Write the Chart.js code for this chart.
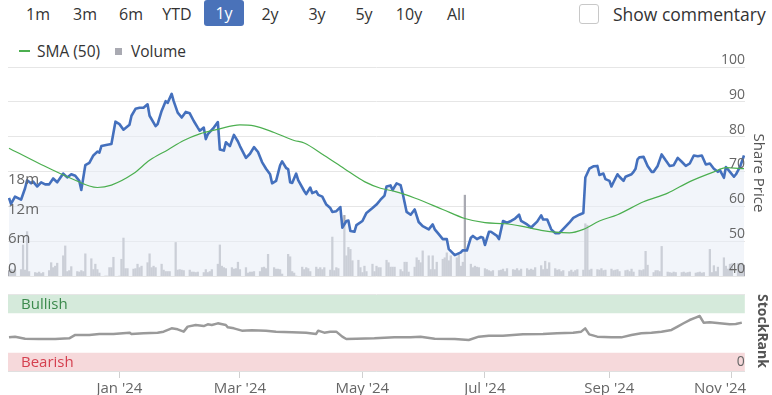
<!DOCTYPE html>
<html>
<head>
<meta charset="utf-8">
<script src="https://cdn.jsdelivr.net/npm/chart.js@4.4.1/dist/chart.umd.min.js"></script>
<style>
  body { margin: 0; width: 772px; height: 395px; background: #fff; font-family: 'Open Sans', sans-serif; position: relative; overflow: hidden; }
  .btn { position: absolute; top: 1px; height: 26px; line-height: 26px; font-size: 16px; color: #333; transform: translateX(-50%); }
  .btn.on { top: 0; background: #4a72b9; color: #fff; width: 40px; text-align: center; border-radius: 3px; }
  .check { position: absolute; left: 579px; top: 4px; width: 18px; height: 18px; border: 1px solid #c8c8c8; border-radius: 3px; }
  .comment { position: absolute; left: 613px; top: 0; line-height: 28px; font-size: 17.5px; color: #333; }
  .legend { position: absolute; top: 41px; line-height: 20px; font-size: 15.5px; color: #333; }
  .axis-title { position: absolute; font-size: 15px; color: #555; white-space: nowrap; transform: translate(-50%, -50%) rotate(90deg); }
  canvas { position: absolute; left: 0; }
</style>
</head>
<body>
<div class="btn" style="left:38px">1m</div>
<div class="btn" style="left:85px">3m</div>
<div class="btn" style="left:131px">6m</div>
<div class="btn" style="left:177px">YTD</div>
<div class="btn on" style="left:224px">1y</div>
<div class="btn" style="left:270px">2y</div>
<div class="btn" style="left:317px">3y</div>
<div class="btn" style="left:364px">5y</div>
<div class="btn" style="left:409px">10y</div>
<div class="btn" style="left:456px">All</div>
<div class="check"></div>
<div class="comment">Show commentary</div>

<div style="position:absolute;left:19px;top:50px;width:11px;height:2px;background:#4caf50"></div>
<div class="legend" style="left:37px">SMA (50)</div>
<div style="position:absolute;left:115px;top:48px;width:7px;height:7px;background:#a9aab2"></div>
<div class="legend" style="left:131px">Volume</div>

<canvas id="main" width="772" height="245" style="top:40px"></canvas>
<canvas id="rank" width="772" height="110" style="top:285px"></canvas>

<div class="axis-title" style="left:760px;top:173px">Share Price</div>
<div class="axis-title" style="left:763px;top:331px;font-weight:bold;font-size:14px">StockRank</div>

<script>
// x values are days counted from 1 Jan 2024 (negative = late 2023)
const xMin = -55.5;
const xMax = 311.5;

const tickDays = [0, 60, 121, 182, 244, 305];
const tickLabels = ["Jan '24", "Mar '24", "May '24", "Jul '24", "Sep '24", "Nov '24"];

const priceDays = [
  -55, -54, -52, -49, -47, -46, -44, -43, -41, -39,
  -37, -35, -33, -31, -28, -26, -24, -22, -20, -19,
  -17, -15, -13, -11, -10, -9, -6, -4, -2, 0,
  2, 5, 6, 8, 10, 12, 14, 15, 18, 19,
  21, 23, 24, 26, 27, 29, 31, 33, 35, 37,
  39, 40, 42, 43, 44, 47, 49, 50, 52, 53,
  55, 57, 59, 60, 63, 65, 67, 69, 71, 73,
  75, 76, 78, 80, 81, 83, 84, 85, 86, 88,
  89, 92, 93, 95, 96, 98, 99, 101, 103, 105,
  106, 108, 110, 111, 113, 114, 115, 117, 118, 121,
  123, 126, 128, 130, 132, 133, 135, 136, 138, 140,
  141, 143, 145, 147, 149, 151, 154, 156, 157, 159,
  161, 163, 164, 167, 170, 171, 173, 175, 176, 178,
  180, 181, 182, 184, 185, 188, 189, 191, 193, 195,
  197, 199, 200, 203, 205, 206, 208, 210, 211, 213,
  215, 217, 219, 222, 224, 226, 229, 231, 232, 234,
  236, 238, 239, 241, 242, 244, 245, 246, 248, 249,
  251, 252, 255, 256, 257, 258, 259, 261, 263, 265,
  266, 268, 270, 272, 274, 276, 278, 280, 282, 284,
  286, 288, 290, 292, 294, 296, 298, 299, 301, 302,
  304, 306, 307, 309, 311
];
const priceClose = [
  62.4, 60.7, 62.8, 61.9, 65.2, 67.5, 66.6, 67.1, 65.7, 66.9,
  66.3, 66.3, 68.0, 66.9, 69.4, 68.3, 69.2, 68.8, 67.3, 64.7,
  71.8, 72.5, 74.6, 75.7, 75.4, 77.3, 77.7, 77.9, 84.3, 83.6,
  82.0, 83.4, 86.0, 88.0, 88.3, 88.3, 89.3, 86.0, 83.0, 83.6,
  87.4, 90.2, 89.7, 92.3, 90.2, 86.9, 85.5, 87.1, 86.7, 84.5,
  82.6, 81.7, 82.6, 79.3, 80.7, 82.6, 84.2, 76.3, 76.0, 78.4,
  77.3, 80.5, 78.6, 77.3, 73.9, 75.1, 77.0, 75.6, 72.7, 70.8,
  69.2, 66.6, 67.3, 71.8, 72.9, 71.0, 70.7, 66.9, 66.7, 69.4,
  67.5, 64.4, 63.5, 65.4, 63.8, 64.3, 63.3, 62.8, 60.5, 59.5,
  58.4, 58.6, 59.8, 53.9, 55.8, 55.9, 52.9, 52.7, 54.6, 55.8,
  58.1, 59.5, 60.5, 61.9, 63.1, 65.7, 66.0, 64.7, 66.6, 66.1,
  63.8, 58.4, 57.6, 59.1, 55.5, 54.3, 53.4, 54.8, 53.4, 52.0,
  50.6, 50.6, 47.7, 46.0, 46.8, 47.4, 47.3, 51.0, 51.5, 50.6,
  51.2, 51.0, 48.9, 52.7, 52.7, 51.5, 50.6, 55.8, 55.3, 55.8,
  56.5, 57.6, 55.8, 54.8, 53.9, 54.5, 55.6, 57.4, 56.2, 56.2,
  53.4, 52.3, 52.3, 54.1, 55.3, 56.7, 57.6, 58.1, 68.3, 70.8,
  71.5, 71.6, 69.0, 69.4, 67.8, 67.3, 65.7, 66.9, 69.2, 68.5,
  67.3, 68.5, 69.2, 69.9, 70.8, 73.5, 74.1, 74.2, 71.6, 69.9,
  69.9, 71.6, 74.9, 73.2, 71.6, 71.8, 73.9, 72.8, 71.6, 72.3,
  74.6, 74.4, 74.6, 72.0, 72.3, 70.8, 69.9, 70.4, 68.2, 71.3,
  69.9, 68.5, 69.2, 71.3, 74.6
];

const smaDays = [
  -55, -40, -24, -11, -4, 7, 15, 24, 32, 40,
  49, 60, 67, 77, 87, 92, 102, 112, 122, 130,
  137, 147, 161, 172, 182, 192, 200, 210, 218, 224,
  231, 239, 248, 261, 273, 284, 296, 302, 311
];
const smaValues = [
  76.7, 72.3, 68.0, 65.4, 66.1, 69.4, 73.2, 76.2, 78.9, 80.8,
  82.1, 83.4, 83.1, 81.2, 78.9, 78.2, 74.6, 70.8, 67.1, 65.2,
  64.3, 62.4, 59.1, 56.5, 55.3, 55.0, 54.3, 53.1, 52.5, 52.4,
  53.4, 55.8, 57.6, 61.3, 63.8, 67.1, 69.9, 71.1, 70.8
];

// daily volume in millions, one row per week (Mon..Fri), first row starts Tue 7 Nov 2023
const volumeFirstDay = -55;
const volume = [
  1.1, 1.4, 1.2, 1.3,
  1.3, 6.3, 1.2, 9.0, 0.9,
  0.7, 0.6, 0.8, 0.5, 0.7,
  1.1, 2.7, 1.7, 2.0, 2.6,
  4.1, 6.1, 0.9, 1.1, 1.9,
  0.9, 0.8, 1.1, 0.9, 4.5,
  3.5, 1.3, 2.4, 1.3, 0.6,
  0, 0, 1.7, 1.7, 3.8,
  0, 3.4, 7.7, 1.5, 1.5,
  1.4, 1.5, 2.4, 1.7, 2.0,
  2.7, 4.5, 1.7, 2.0, 1.7,
  2.4, 1.2, 0.9, 0.9, 0.9,
  6.8, 1.2, 1.3, 1.2, 1.1,
  1.2, 0.8, 0.8, 0.7, 0.8,
  0.7, 1.3, 0.7, 0.9, 1.3,
  2.4, 6.3, 2.0, 1.7, 1.5,
  1.7, 1.4, 1.5, 2.8, 1.3,
  1.7, 0.6, 0.8, 0.8, 0.9,
  0.9, 1.7, 1.8, 1.5, 4.4,
  1.7, 1.4, 1.4, 1.3, 0.4,
  4.4, 3.9, 0.9, 0.6, 0,
  1.8, 1.3, 1.7, 1.5, 0.9,
  1.8, 1.4, 1.7, 1.3, 1.7,
  1.2, 7.9, 1.1, 1.7, 1.5,
  12.3, 4.1, 5.8, 5.4, 3.1,
  3.2, 1.7, 0.7, 2.0, 0.9,
  2.4, 0.9, 2.0, 1.7, 1.7,
  3.2, 2.7, 1.8, 1.8, 1.8,
  1.3, 0.9, 2.8, 2.8, 0.8,
  1.8, 3.7, 3.2, 2.7, 5.1,
  4.1, 1.3, 4.1, 1.3, 2.8,
  3.4, 3.7, 4.7, 3.1, 4.1,
  3.7, 4.4, 2.0, 2.8, 16.4,
  2.4, 1.7, 2.0, 1.8, 1.7,
  1.5, 1.3, 1.1, 0.9, 1.1,
  1.1, 1.2, 1.4, 0.9, 1.5,
  1.3, 1.2, 1.5, 1.1, 1.4,
  1.5, 1.2, 1.4, 1.2, 1.7,
  2.1, 1.3, 3.0, 1.4, 2.7,
  1.5, 1.2, 1.3, 0.9, 1.1,
  0.9, 1.2, 0.8, 1.1, 1.3,
  1.2, 10.6, 10.3, 1.2, 1.4,
  1.3, 1.2, 1.5, 1.1, 1.2,
  1.4, 1.1, 1.2, 1.3, 0.9,
  1.1, 1.2, 0.9, 1.4, 0.8,
  1.2, 1.1, 1.3, 5.0, 2.2,
  0.7, 1.1, 1.1, 0.9, 6.0,
  0.8, 0.7, 0.6, 0.8, 0.7,
  0.7, 0.8, 0.6, 0.7, 0.8,
  0.6, 0.7, 0.8, 0.6, 0.7,
  5.4, 0.7, 2.1, 0.9, 1.8,
  3.7, 2.0, 1.4, 2.4, 2.5,
  2.5, 2.4, 2.6, 2.2
];

const rankDays = [
  -55, -52, -47, -40, -32, -25, -22, -15, -10, -3,
  5, 6, 12, 19, 22, 26, 29, 32, 34, 38,
  42, 44, 46, 49, 53, 54, 57, 61, 66, 73,
  78, 86, 93, 98, 99, 102, 105, 108, 111, 113,
  118, 127, 137, 145, 150, 157, 167, 174, 179, 184,
  191, 201, 211, 218, 226, 230, 232, 234, 238, 245,
  250, 255, 260, 265, 270, 275, 278, 281, 284, 287,
  289, 291, 294, 299, 304, 307, 310
];
const rankValues = [
  43.7, 44.6, 42.0, 41.6, 41.6, 42.4, 46.8, 46.8, 48.1, 48.1,
  49.8, 48.1, 49.0, 49.8, 51.1, 55.4, 54.1, 51.1, 57.6, 59.7,
  58.4, 60.6, 59.7, 61.9, 59.7, 56.7, 55.4, 52.4, 52.8, 52.4,
  51.1, 50.3, 49.8, 48.1, 52.4, 49.8, 51.1, 51.1, 44.6, 41.6,
  42.0, 42.4, 43.7, 43.7, 44.6, 42.0, 41.6, 40.3, 44.6, 45.9,
  45.9, 47.6, 48.1, 49.0, 49.8, 51.1, 55.4, 47.6, 44.6, 43.7,
  43.7, 46.8, 49.0, 49.8, 51.1, 53.3, 57.6, 62.0, 66.2, 69.3,
  71.4, 62.8, 63.2, 61.9, 60.6, 61.0, 62.8
];

const bullishBand = [75, 100];
const bearishBand = [0, 25];

Chart.defaults.font.family = "'Open Sans', sans-serif";
Chart.defaults.color = '#666';

// weekday positions for the volume bars
const volumeDays = [];
for (let d = volumeFirstDay; volumeDays.length < volume.length; d++) {
  const wd = ((d % 7) + 7) % 7; // 0 = Monday
  if (wd < 5) volumeDays.push(d);
}

const toPoints = (xs, ys) => xs.map((x, i) => ({ x: x, y: ys[i] }));
const zeroWidth = (scale) => { scale.width = 0; };

new Chart(document.getElementById('main'), {
  type: 'line',
  data: {
    datasets: [
      {
        label: 'SMA (50)',
        data: toPoints(smaDays, smaValues),
        yAxisID: 'price',
        borderColor: '#4caf50',
        borderWidth: 1.2,
        pointRadius: 0,
        cubicInterpolationMode: 'monotone',
        order: 0,
      },
      {
        label: 'Price',
        data: toPoints(priceDays, priceClose),
        yAxisID: 'price',
        borderColor: '#4470bd',
        borderWidth: 2.6,
        borderJoinStyle: 'round',
        pointRadius: 0,
        fill: 'start',
        backgroundColor: 'rgba(232,236,246,0.55)',
        order: 1,
      },
      {
        type: 'bar',
        label: 'Volume',
        data: toPoints(volumeDays, volume),
        yAxisID: 'vol',
        backgroundColor: '#a9aab2',
        barThickness: 1.6,
        order: 2,
      },
    ],
  },
  options: {
    responsive: false,
    animation: false,
    layout: { padding: { left: 8, right: 27, top: 27, bottom: 6 }, autoPadding: false },
    plugins: { legend: { display: false }, tooltip: { enabled: false } },
    scales: {
      x: { type: 'linear', min: xMin, max: xMax, offset: false, display: false },
      price: {
        position: 'right',
        min: 40,
        max: 100,
        ticks: { stepSize: 10, mirror: true, padding: 0, labelOffset: -7, z: 1, font: { size: 14 } },
        grid: { color: '#e6e6e6', drawTicks: false },
        border: { display: false },
        afterFit: zeroWidth,
      },
      vol: {
        position: 'left',
        min: 0,
        max: 42.4,
        ticks: {
          stepSize: 6,
          mirror: true,
          padding: 0,
          labelOffset: -7.5,
          z: 1,
          font: { size: 15 },
          callback: (v) => (v > 18 ? '' : v === 0 ? '0' : v + 'm'),
        },
        grid: { display: false },
        border: { display: false },
        afterFit: zeroWidth,
      },
    },
  },
});

const rankBands = {
  id: 'rankBands',
  beforeDatasetsDraw(chart) {
    const { ctx, chartArea: a, scales: { rank } } = chart;
    const bands = [
      [bullishBand, 'rgb(213,234,219)', 'Bullish', '#3b8a4c'],
      [bearishBand, 'rgb(246,217,219)', 'Bearish', '#d5404f'],
    ];
    ctx.save();
    ctx.font = "15px 'Open Sans', sans-serif";
    ctx.textBaseline = 'middle';
    bands.forEach(([band, fill, text, color]) => {
      const top = rank.getPixelForValue(band[1]) + 1;
      const bottom = rank.getPixelForValue(band[0]);
      ctx.fillStyle = fill;
      ctx.fillRect(a.left, top, a.right - a.left, bottom - top);
      ctx.fillStyle = color;
      ctx.fillText(text, a.left + 13, (top + bottom) / 2 + 1);
    });
    ctx.restore();
  },
};

new Chart(document.getElementById('rank'), {
  type: 'line',
  data: {
    datasets: [
      {
        label: 'StockRank',
        data: toPoints(rankDays, rankValues),
        yAxisID: 'rank',
        borderColor: '#9a9a9a',
        borderWidth: 2.5,
        borderJoinStyle: 'round',
        pointRadius: 0,
      },
    ],
  },
  options: {
    responsive: false,
    animation: false,
    layout: { padding: { left: 8, right: 27, top: 9, bottom: 0 }, autoPadding: false },
    plugins: { legend: { display: false }, tooltip: { enabled: false } },
    scales: {
      x: {
        type: 'linear',
        min: xMin,
        max: xMax,
        offset: false,
        afterBuildTicks: (scale) => { scale.ticks = tickDays.map((v) => ({ value: v })); },
        afterFit: (scale) => { scale.height = 24; },
        ticks: {
          autoSkip: false,
          maxRotation: 0,
          padding: 2,
          font: { size: 15 },
          callback: (v) => {
            const i = tickDays.indexOf(v);
            if (i < 0) return '';
            // last label is pulled in so it stays inside the plot
            return i === tickLabels.length - 1 ? tickLabels[i] + '      ' : tickLabels[i];
          },
        },
        grid: { drawOnChartArea: false, drawTicks: true, tickLength: 7, color: '#d0d0d0' },
        border: { display: true, color: '#e0e0e0' },
      },
      rank: {
        position: 'right',
        min: 0,
        max: 100,
        afterBuildTicks: (scale) => { scale.ticks = [{ value: 0 }, { value: 100 }]; },
        afterFit: zeroWidth,
        ticks: {
          mirror: true,
          padding: 0,
          labelOffset: -9,
          z: 1,
          font: { size: 14 },
          callback: (v) => (v === 0 ? '0' : ''),
        },
        grid: { color: '#e6e6e6', drawTicks: false },
        border: { display: false },
      },
    },
  },
  plugins: [rankBands],
});
</script>
</body>
</html>
